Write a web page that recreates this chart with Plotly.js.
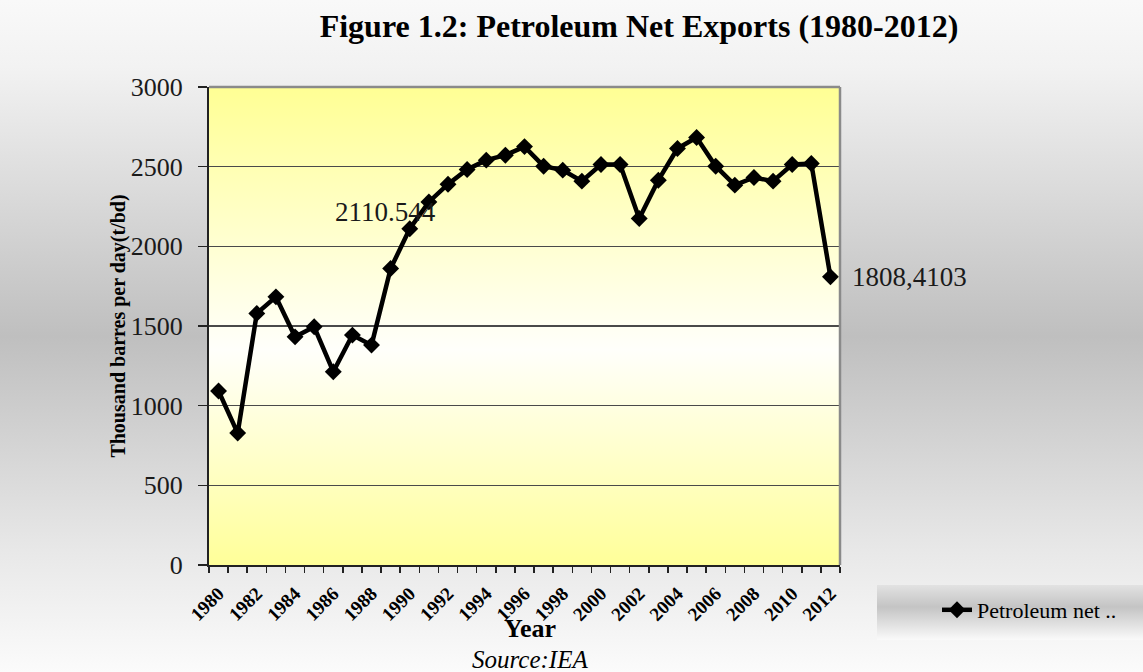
<!DOCTYPE html>
<html>
<head>
<meta charset="utf-8">
<script src="https://cdn.plot.ly/plotly-3.0.1.min.js"></script>
<style>
  html, body { margin: 0; padding: 0; }
  #chart {
    width: 1143px; height: 672px;
    background: linear-gradient(to bottom, #f9f9f9 0%, #f2f2f2 10%, #bfbfbf 50%, #e8e8e8 82%, #fbfbfb 100%);
  }
</style>
</head>
<body>
<div id="chart"></div>
<script>
// ---- data ----
const years = [1980,1981,1982,1983,1984,1985,1986,1987,1988,1989,1990,1991,1992,1993,1994,1995,1996,
               1997,1998,1999,2000,2001,2002,2003,2004,2005,2006,2007,2008,2009,2010,2011,2012];
const netExports = [1092, 828, 1579, 1683, 1432, 1495, 1213, 1443, 1380, 1861, 2110.544, 2279, 2390, 2482, 2541, 2572, 2626,
                    2503, 2478, 2409, 2514, 2514, 2175, 2415, 2614, 2683, 2503, 2384, 2432, 2409, 2514, 2520, 1808.4103];
const tickYears = [1980,1982,1984,1986,1988,1990,1992,1994,1996,1998,2000,2002,2004,2006,2008,2010,2012];
const tickLabels = tickYears.map(String);
const seriesName = 'Petroleum net ..';
const labelled = [
  {year: 1990, value: 2110.544, text: '2110.544'},
  {year: 2012, value: 1808.4103, text: '1808,4103'}
];

function svgGradient(stops) {
  const s = stops.map(st => `<stop offset='${st[0]}' stop-color='${st[1]}'/>`).join('');
  const svg = `<svg xmlns='http://www.w3.org/2000/svg' width='100' height='100' viewBox='0 0 100 100' preserveAspectRatio='none'>` +
    `<defs><linearGradient id='g' x1='0' y1='0' x2='0' y2='1'>${s}</linearGradient></defs>` +
    `<rect x='0' y='0' width='100' height='100' fill='url(#g)'/></svg>`;
  return 'data:image/svg+xml;charset=utf-8,' + encodeURIComponent(svg);
}

const serif = 'Liberation Serif, Times New Roman, serif';

const trace = {
  x: years, y: netExports, type: 'scatter', mode: 'lines+markers', name: seriesName,
  line: {color: '#000000', width: 4.5},
  marker: {symbol: 'diamond', size: 13, color: '#000000'}
};

const L = 209, R = 840, T = 87, B = 565, W = 1143, H = 672;
const pw = R - L, ph = B - T;

const annotations = labelled.map((d, i) => ({
  x: d.year, y: d.value, xref: 'x', yref: 'y', text: d.text, showarrow: false,
  font: {family: serif, size: 27, color: '#1a1a1a'},
  xshift: i === 0 ? -24 : 79, yshift: i === 0 ? 17 : 0
}));
annotations.push({
  x: (530 - L) / pw, y: (B - 628) / ph, xref: 'paper', yref: 'paper', showarrow: false,
  text: 'Year', font: {family: serif, size: 26, color: '#000', weight: 'bold'}, yanchor: 'middle'
});
annotations.push({
  x: (530 - L) / pw, y: (B - 659) / ph, xref: 'paper', yref: 'paper', showarrow: false,
  text: '<i>Source:IEA</i>', font: {family: serif, size: 25, color: '#000'}, yanchor: 'middle'
});

const layout = {
  width: W, height: H,
  margin: {l: L, r: W - R, t: T, b: H - B, pad: 0},
  paper_bgcolor: 'rgba(0,0,0,0)',
  plot_bgcolor: 'rgba(0,0,0,0)',
  title: {
    text: 'Figure 1.2: Petroleum Net Exports (1980-2012)',
    x: 639 / W, xanchor: 'center', y: 1 - 26 / H, yanchor: 'middle', yref: 'container',
    font: {family: serif, size: 32, color: '#000', weight: 'bold'}
  },
  xaxis: {
    type: 'linear', range: [1979.5, 2012.5], tickmode: 'array', tickvals: tickYears, ticktext: tickLabels,
    tickangle: -45, ticks: 'outside', ticklen: 8, tickcolor: 'rgba(0,0,0,0)',
    tickfont: {family: serif, size: 19, color: '#000', weight: 'bold'},
    showgrid: false, zeroline: false, showline: true, linecolor: '#222', linewidth: 2,
    minor: {ticks: 'outside', tick0: 1979.5, dtick: 1, ticklen: 6, tickcolor: '#222', tickwidth: 1.5, showgrid: false}
  },
  yaxis: {
    range: [0, 3000], dtick: 500, tick0: 0, ticks: 'outside', ticklen: 9, tickcolor: '#222', tickwidth: 1.5,
    ticklabelstandoff: 10,
    tickfont: {family: serif, size: 26, color: '#1a1a1a'},
    showgrid: true, gridcolor: '#4a4a4a', gridwidth: 1.5, zeroline: false,
    showline: true, linecolor: '#222', linewidth: 2,
    title: {text: 'Thousand barres per day(t/bd)', standoff: 0,
            font: {family: serif, size: 20, color: '#000', weight: 'bold'}}
  },
  showlegend: true,
  legend: {
    x: (937 - L) / pw, xanchor: 'left', y: (B - 610) / ph, yanchor: 'middle',
    bgcolor: 'rgba(0,0,0,0)', borderwidth: 0,
    font: {family: serif, size: 22, color: '#000'}
  },
  images: [
    {source: svgGradient([[0, '#ffff94'], [0.55, '#fffffb'], [1, '#ffff99']]),
     xref: 'paper', yref: 'paper', x: 0, y: 1, sizex: 1, sizey: 1, xanchor: 'left', yanchor: 'top',
     sizing: 'stretch', layer: 'below'},
    {source: svgGradient([[0, '#e2e2e2'], [0.4, '#c4c4c4'], [1, '#fafafa']]),
     xref: 'paper', yref: 'paper', x: (877 - L) / pw, y: (B - 585) / ph, sizex: (W - 877) / pw, sizey: 55 / ph,
     xanchor: 'left', yanchor: 'top', sizing: 'stretch', layer: 'below'}
  ],
  shapes: [
    {type: 'line', xref: 'paper', yref: 'paper', x0: 0, x1: 1, y0: 1, y1: 1, line: {color: '#8a8a8a', width: 2.5}},
    {type: 'line', xref: 'paper', yref: 'paper', x0: 1, x1: 1, y0: 0, y1: 1, line: {color: '#8a8a8a', width: 2.5}}
  ],
  annotations: annotations
};

Plotly.newPlot('chart', [trace], layout, {displayModeBar: false, staticPlot: true});
</script>
</body>
</html>
